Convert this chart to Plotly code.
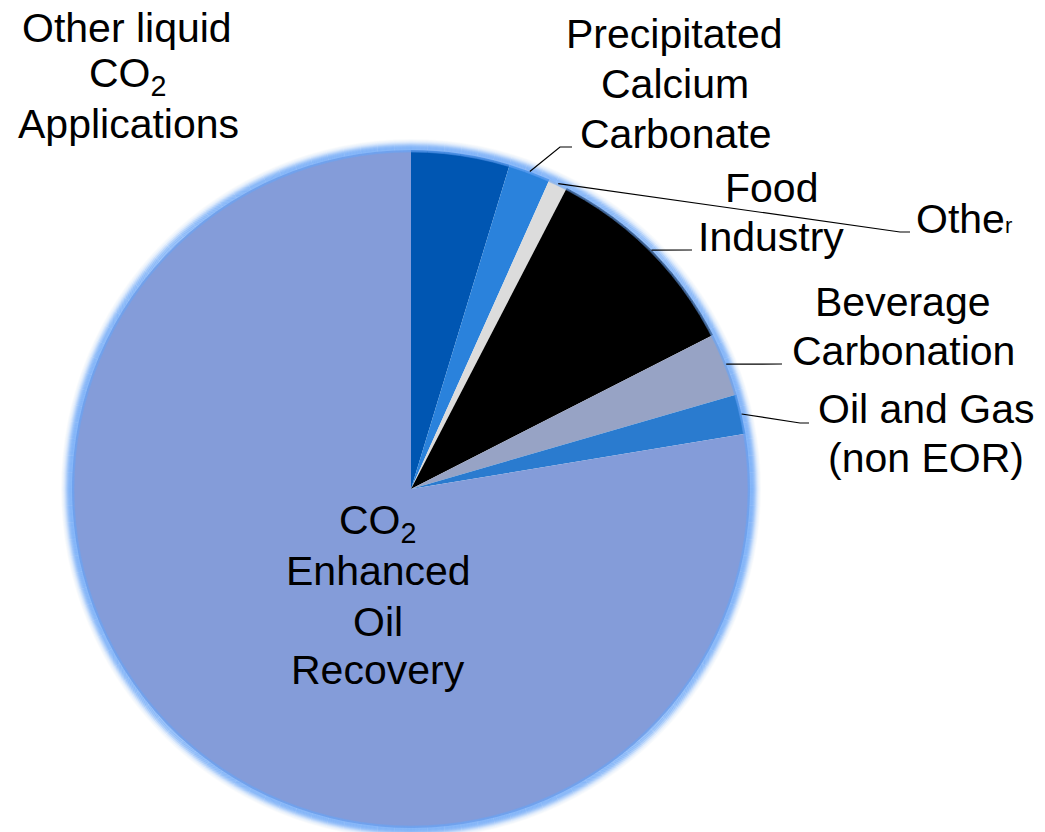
import math
import plotly.graph_objects as go

W, H = 1045, 832

# Market share of CO2 uses (percent), clockwise from 12 o'clock
categories = [
    "Other liquid CO2 Applications",
    "Precipitated Calcium Carbonate",
    "Other",
    "Food Industry",
    "Beverage Carbonation",
    "Oil and Gas (non EOR)",
    "CO2 Enhanced Oil Recovery",
]
shares = [4.7, 2.0, 0.9, 9.9, 3.0, 1.9, 77.6]
colors = ["#0056B2", "#2A82DC", "#DCDCDC", "#000000", "#97A3C5", "#2A7BCF", "#849CD9"]

# Label lines: (category index, text, centre x or left x, baseline y, anchor)
label_lines = [
    (0, "Other liquid", 127, 42, "center"),
    (0, "CO<sub>2</sub>", 127, 90, "center"),
    (0, "Applications", 128, 138, "center"),
    (1, "Precipitated", 674, 48, "center"),
    (1, "Calcium", 675, 98, "center"),
    (1, "Carbonate", 675, 148, "center"),
    (3, "Food", 771, 202, "center"),
    (3, "Industry", 771, 251, "center"),
    (2, "Othe<span style='font-size:22px'>r</span>", 914, 233, "left"),
    (4, "Beverage", 903, 316, "center"),
    (4, "Carbonation", 903, 365, "center"),
    (5, "Oil and Gas", 926, 423, "center"),
    (5, "(non EOR)", 926, 472, "center"),
    (6, "CO<sub>2</sub>", 377, 537, "center"),
    (6, "Enhanced", 378, 585, "center"),
    (6, "Oil", 378, 636, "center"),
    (6, "Recovery", 378, 684, "center"),
]

# Leader line elbows for slices labelled outside the pie
leader_elbows = {
    1: [(560, 147), (572, 147)],
    2: [(900, 232), (910, 232)],
    3: [(692, 250)],
    4: [(782, 364)],
    5: [(800, 423), (809, 423)],
}

CX, CY, R = 411, 489, 339  # pie centre and radius (pixels)
FONT = "Liberation Sans, Arial, sans-serif"
FS = 41


def px(x):
    return x / W


def py(y):
    return 1 - y / H


fig = go.Figure(
    go.Pie(
        labels=categories,
        values=shares,
        sort=False,
        direction="clockwise",
        rotation=0,
        marker=dict(colors=colors, line=dict(width=0)),
        textinfo="none",
        hoverinfo="label+percent",
        showlegend=False,
        domain=dict(x=[px(CX - R), px(CX + R)], y=[py(CY + R), py(CY - R)]),
    )
)

shapes = []

# soft light-blue glow hugging the rim
for k in range(0, 26):
    d = -2.0 + k * 0.5
    a = 0.8 * math.exp(-((d - 1.5) ** 2) / (2 * 3.4 ** 2))
    shapes.append(
        dict(
            type="circle", xref="paper", yref="paper",
            xsizemode="pixel", ysizemode="pixel",
            xanchor=px(CX), yanchor=py(CY),
            x0=-(R + d), x1=R + d, y0=-(R + d), y1=R + d,
            line=dict(color="#6AA6F8", width=0.8), opacity=a, layer="above",
        )
    )

# leader lines start at each slice's mid-angle on the rim
total = sum(shares)
cum = 0.0
mids = []
for v in shares:
    mids.append((cum + v / 2) / total * 2 * math.pi)
    cum += v

for i, elbows in leader_elbows.items():
    th = mids[i]
    sx = CX + R * math.sin(th)
    sy = CY - R * math.cos(th)
    path = f"M {px(sx)} {py(sy)}"
    for ex, ey in elbows:
        path += f" L {px(ex)} {py(ey)}"
    shapes.append(
        dict(type="path", xref="paper", yref="paper", path=path,
             line=dict(color="black", width=1.2), layer="above")
    )

annotations = []
for _, text, x, base, anchor in label_lines:
    yc = base - 0.3465 * FS
    annotations.append(
        dict(
            text=text, x=px(x), y=py(yc), xref="paper", yref="paper",
            xanchor=anchor, yanchor="middle", showarrow=False,
            font=dict(family=FONT, size=FS, color="black"),
        )
    )

fig.update_layout(
    width=W, height=H,
    margin=dict(l=0, r=0, t=0, b=0),
    paper_bgcolor="white", plot_bgcolor="white",
    shapes=shapes, annotations=annotations,
)

fig.write_html("out.html")
